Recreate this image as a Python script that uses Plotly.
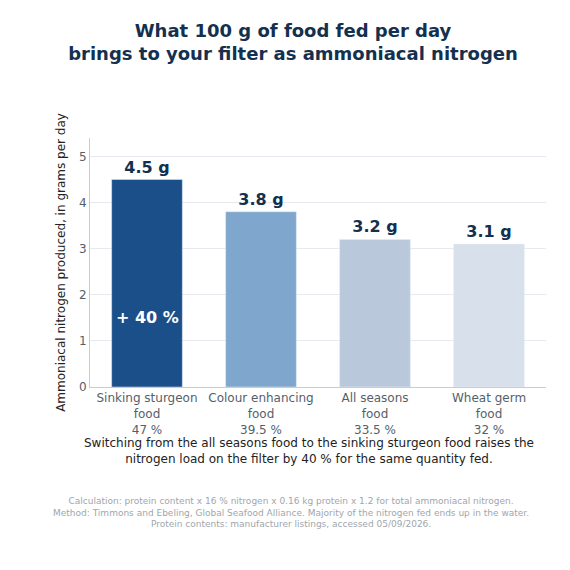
import plotly.graph_objects as go

foods = ["Sinking sturgeon<br>food<br>47 %", "Colour enhancing<br>food<br>39.5 %",
         "All seasons<br>food<br>33.5 %", "Wheat germ<br>food<br>32 %"]
nitrogen = [4.5, 3.8, 3.2, 3.1]
labels = ["4.5 g", "3.8 g", "3.2 g", "3.1 g"]
colors = ["#1b4f8a", "#7fa6cc", "#b9c9db", "#d8e1eb"]

dark = "#14304f"
font = "DejaVu Sans"

fig = go.Figure()
fig.add_trace(go.Bar(x=foods, y=nitrogen, marker_color=colors, text=labels,
                     textposition="outside", cliponaxis=False,
                     textfont=dict(family=font, size=16, color=dark, weight="bold"),
                     hoverinfo="skip"))

fig.add_annotation(x=foods[0], y=1.5, text="<b>+ 40 %</b>", showarrow=False,
                   font=dict(family=font, size=16, color="white"))

fig.update_layout(
    width=570, height=570,
    paper_bgcolor="white", plot_bgcolor="white",
    margin=dict(l=82, r=32, t=130, b=191),
    showlegend=False, bargap=0.38,
    font=dict(family=font, color="#555f6b", size=12),
    title=dict(text="<b>What 100 g of food fed per day<br>brings to your filter as ammoniacal nitrogen</b>",
               x=0.5, xanchor="center", y=0.95, yanchor="top",
               font=dict(family=font, size=18, color=dark), automargin=False),
    xaxis=dict(showline=True, linecolor="#c8cdd3", ticks="", automargin=False,
               tickfont=dict(size=12, color="#555f6b")),
    yaxis=dict(range=[0, 5.4], dtick=1, showgrid=True, gridcolor="#e6e9ed",
               showline=True, linecolor="#c8cdd3", zeroline=False, automargin=False,
               ticks="", ticklen=0, tickfont=dict(size=12, color="#555f6b"),
               title=dict(text="Ammoniacal nitrogen produced, in grams per day",
                          font=dict(size=12, color="#222"), standoff=10)),
)

fig.add_annotation(xref="paper", yref="paper", x=0.48, y=-0.19, xanchor="center", yanchor="top",
                   showarrow=False, align="center",
                   text="Switching from the all seasons food to the sinking sturgeon food raises the<br>"
                        "nitrogen load on the filter by 40 % for the same quantity fed.",
                   font=dict(family=font, size=12, color="#222"))
fig.add_annotation(xref="paper", yref="paper", x=0.44, y=-0.43, xanchor="center", yanchor="top",
                   showarrow=False, align="center",
                   text="Calculation: protein content x 16 % nitrogen x 0.16 kg protein x 1.2 for total ammoniacal nitrogen.<br>"
                        "Method: Timmons and Ebeling, Global Seafood Alliance. Majority of the nitrogen fed ends up in the water.<br>"
                        "Protein contents: manufacturer listings, accessed 05/09/2026.",
                   font=dict(family=font, size=9, color="#a0a6ad"))

fig.write_html("out.html")
